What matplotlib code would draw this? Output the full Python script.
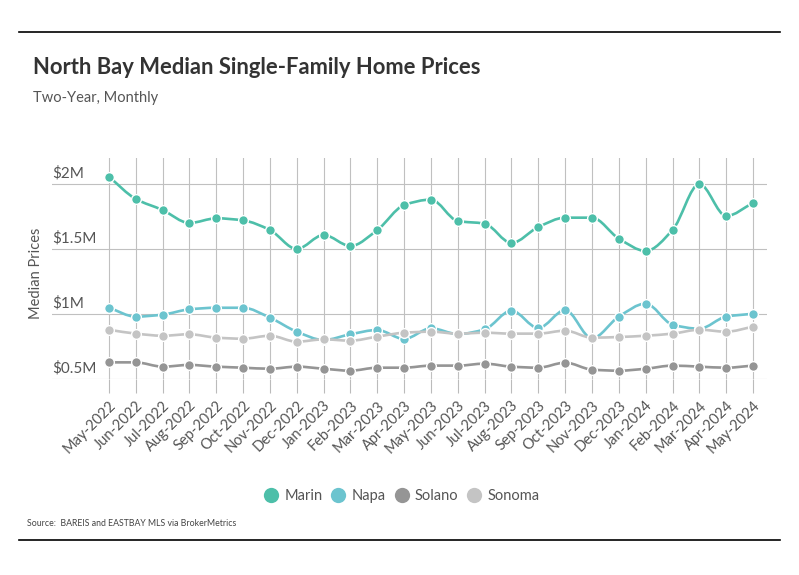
import numpy as np
import matplotlib
matplotlib.use("Agg")
import matplotlib.pyplot as plt
from matplotlib.path import Path
from matplotlib.patches import PathPatch
from matplotlib.lines import Line2D

months = ["May-2022", "Jun-2022", "Jul-2022", "Aug-2022", "Sep-2022", "Oct-2022",
          "Nov-2022", "Dec-2022", "Jan-2023", "Feb-2023", "Mar-2023", "Apr-2023",
          "May-2023", "Jun-2023", "Jul-2023", "Aug-2023", "Sep-2023", "Oct-2023",
          "Nov-2023", "Dec-2023", "Jan-2024", "Feb-2024", "Mar-2024", "Apr-2024",
          "May-2024"]

# median prices, $M
marin = [2.056, 1.885, 1.80, 1.70, 1.736, 1.72, 1.646, 1.50, 1.608, 1.523, 1.646,
         1.838, 1.88, 1.715, 1.695, 1.546, 1.669, 1.741, 1.741, 1.58, 1.485,
         1.646, 2.00, 1.754, 1.854]
napa = [1.048, 0.98, 0.995, 1.036, 1.048, 1.048, 0.972, 0.864, 0.80, 0.844, 0.877,
        0.808, 0.89, 0.846, 0.882, 1.026, 0.892, 1.03, 0.813, 0.98, 1.08,
        0.918, 0.887, 0.98, 1.002]
solano = [0.628, 0.628, 0.595, 0.608, 0.595, 0.587, 0.579, 0.595, 0.579, 0.564, 0.587,
          0.587, 0.603, 0.603, 0.618, 0.595, 0.587, 0.626, 0.572, 0.564, 0.579,
          0.603, 0.595, 0.587, 0.603]
sonoma = [0.879, 0.849, 0.833, 0.844, 0.818, 0.81, 0.833, 0.787, 0.805, 0.795, 0.826,
          0.856, 0.864, 0.849, 0.856, 0.849, 0.849, 0.872, 0.818, 0.823, 0.833,
          0.849, 0.879, 0.864, 0.902]

series_names = ["Marin", "Napa", "Solano", "Sonoma"]
series_vals = [marin, napa, solano, sonoma]
colors = ["#4dbfa9", "#6cc4cf", "#959595", "#c4c4c4"]

y_ticks = [0.5, 1.0, 1.5, 2.0]
y_tick_labels = ["$0.5M", "$1M", "$1.5M", "$2M"]

FONT = "Lato"


def monotone_path(x, y):
    # monotone cubic curve through the points, as bezier segments
    x = np.asarray(x, float)
    y = np.asarray(y, float)
    n = len(x)
    dx = np.diff(x)
    s = np.diff(y) / dx
    m = np.zeros(n)
    m[0] = s[0]
    m[-1] = s[-1]
    for i in range(1, n - 1):
        if s[i - 1] * s[i] <= 0:
            m[i] = 0
        else:
            m[i] = 3 * (dx[i - 1] + dx[i]) / ((2 * dx[i] + dx[i - 1]) / s[i - 1]
                                              + (dx[i] + 2 * dx[i - 1]) / s[i])
    verts = [(x[0], y[0])]
    codes = [Path.MOVETO]
    for i in range(n - 1):
        h = dx[i]
        verts += [(x[i] + h / 3, y[i] + m[i] * h / 3),
                  (x[i + 1] - h / 3, y[i + 1] - m[i + 1] * h / 3),
                  (x[i + 1], y[i + 1])]
        codes += [Path.CURVE4] * 3
    return Path(verts, codes)


fig = plt.figure(figsize=(7.99, 5.75), dpi=100)
ax = fig.add_axes([52 / 799, 1 - 379 / 575, (767 - 52) / 799, (379 - 158) / 575])

xs = np.arange(len(months))
for name, vals, col in zip(series_names, series_vals, colors):
    patch = PathPatch(monotone_path(xs, vals), facecolor="none", edgecolor=col,
                      lw=1.9, zorder=3, capstyle="round")
    ax.add_patch(patch)
    ax.plot(xs, vals, "o", color=col, ms=7, mec="white", mew=1.0, zorder=4)

ax.set_xlim(-2.12, 24.52)
ax.set_ylim(0.5, 2.2)
ax.set_xticks(xs)
ax.set_xticklabels(months, rotation=45, ha="right", rotation_mode="anchor",
                   fontsize=10.5, color="#555555", family=FONT)
ax.tick_params(axis="x", length=10, width=0.8, color="#bbbbbb", pad=4)
ax.set_yticks(y_ticks)
ax.set_yticklabels([])
ax.tick_params(axis="y", length=0)
for v, lab in zip(y_ticks, y_tick_labels):
    ax.text(-2.12, v + 0.03, lab, ha="left", va="bottom", fontsize=11,
            color="#555555", family=FONT)
ax.grid(True, color="#c0c0c0", lw=0.8)
ax.set_axisbelow(True)
for sp in ax.spines.values():
    sp.set_visible(False)

fig.text(36 / 799, 1 - 273 / 575, "Median Prices", rotation=90, ha="center",
         va="center", fontsize=10.5, color="#555555", family=FONT)

fig.text(33 / 799, 1 - 68 / 575, "North Bay Median Single-Family Home Prices",
         fontsize=15.8, fontweight="bold", color="#333333", family=FONT,
         va="center")
fig.text(33 / 799, 1 - 98 / 575, "Two-Year, Monthly", fontsize=10.5,
         color="#555555", family=FONT, va="center")
fig.text(27 / 799, 1 - 523 / 575, "Source:  BAREIS and EASTBAY MLS via BrokerMetrics",
         fontsize=6.3, color="#444444", family=FONT, va="center")

for yy in (32, 540):
    fig.add_artist(Line2D([19 / 799, 780 / 799], [1 - yy / 575, 1 - yy / 575],
                          color="black", lw=1.2))

handles = [Line2D([], [], marker="o", ls="none", color=c, ms=11, mew=0)
           for c in colors]
leg = fig.legend(handles, series_names, loc="center", bbox_to_anchor=(0.5, 1 - 496 / 575),
                 ncol=4, frameon=False, handletextpad=0.1, columnspacing=0.3,
                 handlelength=1.6, prop={"family": FONT, "size": 10.5})
for t in leg.get_texts():
    t.set_color("#555555")

fig.savefig("out.png", dpi=100)
